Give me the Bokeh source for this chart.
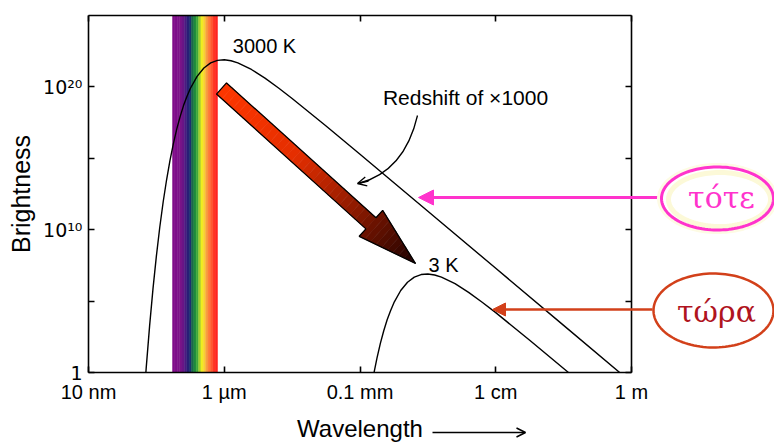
import numpy as np
from bokeh.plotting import figure
from bokeh.models import (LogAxis, FixedTicker, Label, Arrow, NormalHead, OpenHead,
                          PolyAnnotation, CustomJSTickFormatter, Range1d)
from bokeh.embed import file_html
from bokeh.resources import INLINE

# ---------------- data ----------------
# 3000 K blackbody curve: log10(wavelength / m), log10(brightness)
wl_3000_log = [-7.20, -7.15, -7.10, -7.05, -7.00, -6.95, -6.90, -6.85, -6.80, -6.75,
               -6.70, -6.65, -6.60, -6.55, -6.50, -6.40, -6.30, -6.20, -6.10, -6.00,
               -5.90, -5.80, -5.60, -5.40, -5.20, -5.00, -4.50, -4.00, -3.00, -2.00,
               -1.00, 0.00]
br_3000_log = [-3.02, 0.31, 3.25, 5.86, 8.15, 10.17, 11.94, 13.48, 14.84, 16.01,
               17.04, 17.92, 18.69, 19.33, 19.89, 20.74, 21.32, 21.68, 21.86, 21.90,
               21.83, 21.68, 21.22, 20.61, 19.92, 19.19, 17.26, 15.28, 11.29, 7.30,
               3.30, -0.70]
# 3 K blackbody curve
wl_3_log = [-3.85, -3.80, -3.75, -3.70, -3.65, -3.60, -3.55, -3.50, -3.40, -3.30,
            -3.20, -3.10, -3.00, -2.90, -2.80, -2.60, -2.40, -2.20, -2.00, -1.50,
            -1.00, -0.80]
br_3_log = [-1.52, -0.16, 1.01, 2.04, 2.92, 3.69, 4.33, 4.89, 5.74, 6.32,
            6.68, 6.86, 6.90, 6.83, 6.68, 6.22, 5.61, 4.92, 4.19, 2.26,
            0.28, -0.51]

x_tick_values = [1e-8, 1e-6, 1e-4, 1e-2, 1.0]
x_tick_labels = ["10 nm", "1 \u00b5m", "0.1 mm", "1 cm", "1 m"]
y_tick_values = [1.0, 1e5, 1e10, 1e15, 1e20]
y_tick_labels = ["1", "", "10\u00b9\u2070", "", "10\u00b2\u2070"]

x_limits = (1e-8, 1.0)
y_limits = (1.0, 1e25)

# visible band (wavelength in m)
band_left_m = 1.73e-7
band_right_m = 7.96e-7
band_colors = ["#800d8a", "#7f0e8a", "#7d1089", "#7a1488", "#6a1686", "#4a1a80",
               "#2a1e78", "#1e3070", "#1a6a48", "#1f8a3c", "#40a83a", "#a0d030",
               "#f0ee20", "#f8d030", "#f8a040", "#ff7a38", "#ff5a2e", "#ff3a25",
               "#ff2420"]

# ---------------- page geometry (pixels) ----------------
W, H = 774, 444
BX0, BX1 = 88.0, 631.0    # chart box left / right
BY0, BY1 = 372.0, 15.0    # chart box bottom / top


def dx(px):
    lo, hi = np.log10(x_limits[0]), np.log10(x_limits[1])
    return 10 ** (lo + (px - BX0) * (hi - lo) / (BX1 - BX0))


def dy(py):
    lo, hi = np.log10(y_limits[0]), np.log10(y_limits[1])
    return 10 ** (lo + (BY0 - py) * (hi - lo) / (BY0 - BY1))


p = figure(x_axis_type="log", y_axis_type="log",
           x_range=Range1d(dx(0), dx(W)), y_range=Range1d(dy(H), dy(0)),
           width=W, height=H, min_border=0,
           output_backend="svg", toolbar_location=None,
           background_fill_color="white", border_fill_color="white")
p.grid.visible = False
p.outline_line_color = None

FONT = "Liberation Sans"


def fmt(vals, labs):
    return CustomJSTickFormatter(args=dict(vals=vals, labs=labs), code="""
for (let i = 0; i < vals.length; i++) {
  if (Math.abs(Math.log10(tick) - Math.log10(vals[i])) < 1e-6) return labs[i];
}
return "";
""")


def style_axis(ax):
    ax.major_tick_in = 6
    ax.major_tick_out = 0
    ax.minor_tick_in = 0
    ax.minor_tick_out = 0
    ax.axis_line_width = 1.6
    ax.axis_line_color = "black"
    ax.major_tick_line_width = 1.6
    ax.major_tick_line_color = "black"
    ax.major_label_text_color = "black"
    ax.axis_label_text_font = FONT
    ax.axis_label_text_font_style = "normal"
    ax.axis_label_text_color = "black"


xa = p.xaxis[0]
xa.ticker = FixedTicker(ticks=x_tick_values)
xa.formatter = fmt(x_tick_values, x_tick_labels)
xa.fixed_location = y_limits[0]
xa.bounds = x_limits
style_axis(xa)
xa.major_label_text_font = FONT
xa.major_label_text_font_size = "20px"
xa.major_label_standoff = 8
xa.axis_label = "Wavelength"
xa.axis_label_text_font_size = "24px"
xa.axis_label_standoff = 9

ya = p.yaxis[0]
ya.ticker = FixedTicker(ticks=y_tick_values)
ya.formatter = fmt(y_tick_values, y_tick_labels)
ya.fixed_location = x_limits[0]
ya.bounds = y_limits
style_axis(ya)
ya.major_label_text_font = "DejaVu Sans"
ya.major_label_text_font_size = "19px"
ya.major_label_standoff = 6
ya.axis_label = "Brightness"
ya.axis_label_text_font_size = "25px"
ya.axis_label_standoff = 5

ra = LogAxis(ticker=FixedTicker(ticks=y_tick_values), formatter=CustomJSTickFormatter(code="return '';"),
             fixed_location=x_limits[1], bounds=y_limits)
style_axis(ra)
p.add_layout(ra, "right")
ta = LogAxis(ticker=FixedTicker(ticks=x_tick_values), formatter=CustomJSTickFormatter(code="return '';"),
             fixed_location=y_limits[1], bounds=x_limits)
style_axis(ta)
p.add_layout(ta, "above")

# visible band
edges = np.linspace(np.log10(band_left_m), np.log10(band_right_m), len(band_colors) + 1)
p.quad(left=10 ** edges[:-1], right=10 ** edges[1:], bottom=y_limits[0], top=y_limits[1],
       fill_color=band_colors, line_color=band_colors, line_width=0.5)

# blackbody curves
p.line(10 ** np.array(wl_3000_log), 10 ** np.array(br_3000_log), line_color="black", line_width=1.4)
p.line(10 ** np.array(wl_3_log), 10 ** np.array(br_3_log), line_color="black", line_width=1.4)
# white mask below the x axis so the curves stop at the box
p.quad(left=[dx(0)], right=[dx(W)], bottom=[dy(H)], top=[y_limits[0]],
       fill_color="white", line_color=None)


# big gradient redshift arrow (geometry in page pixels)
def lerp_color(t):
    stops = [(0.0, (255, 55, 0)), (0.4, (228, 46, 0)), (0.7, (140, 26, 0)), (1.0, (28, 0, 0))]
    t = min(max(t, 0.0), 1.0)
    for (t0, c0), (t1, c1) in zip(stops[:-1], stops[1:]):
        if t <= t1:
            f = (t - t0) / (t1 - t0)
            return "#%02x%02x%02x" % tuple(int(round(a + (b - a) * f)) for a, b in zip(c0, c1))
    return "#%02x%02x%02x" % stops[-1][1]


T = np.array([221.0, 88.0])
P = np.array([415.0, 263.0])
L = np.linalg.norm(P - T)
u = (P - T) / L
n = np.array([-u[1], u[0]])
hw_s, hw_h, head_len = 7.5, 17.5, 60.0
s_base = L - head_len
xs_list, ys_list, cols = [], [], []
ns = 28
for i in range(ns):
    a, b = s_base * i / ns, s_base * (i + 1) / ns
    pts = [T + a * u + hw_s * n, T + b * u + hw_s * n, T + b * u - hw_s * n, T + a * u - hw_s * n]
    xs_list.append([dx(q[0]) for q in pts])
    ys_list.append([dy(q[1]) for q in pts])
    xc = np.mean([q[0] for q in pts])
    cols.append(lerp_color((xc - 216) / (415 - 216)))
nh = 10
for i in range(nh):
    a, b = s_base + head_len * i / nh, s_base + head_len * (i + 1) / nh
    wa = hw_h * (L - a) / head_len
    wb = hw_h * (L - b) / head_len
    pts = [T + a * u + wa * n, T + b * u + wb * n, T + b * u - wb * n, T + a * u - wa * n]
    xs_list.append([dx(q[0]) for q in pts])
    ys_list.append([dy(q[1]) for q in pts])
    xc = np.mean([q[0] for q in pts])
    cols.append(lerp_color((xc - 216) / (415 - 216)))
p.patches(xs_list, ys_list, fill_color=cols, line_color=cols, line_width=0.6)
B = T + s_base * u
outline = [T + hw_s * n, B + hw_s * n, B + hw_h * n, P, B - hw_h * n, B - hw_s * n, T - hw_s * n]
p.patch([dx(q[0]) for q in outline], [dy(q[1]) for q in outline],
        fill_alpha=0, line_color="black", line_width=1.3)

# curved pointer from "Redshift" text
p.quadratic(x0=[dx(417)], y0=[dy(115)], x1=[dx(358)], y1=[dy(183)],
            cx=[dx(404)], cy=[dy(171)], line_color="black", line_width=1.3)
p.add_layout(Arrow(x_start=dx(368), y_start=dy(180.5), x_end=dx(357), y_end=dy(183),
                   line_color="black", line_width=1.3,
                   end=OpenHead(size=9, line_color="black", line_width=1.3)))


def lab(px, py, text, size, color="black", font=FONT):
    p.add_layout(Label(x=dx(px), y=dy(py), text=text, text_align="center",
                       text_baseline="middle", text_font=font, text_font_size=size,
                       text_color=color))


lab(264, 45, "3000 K", "20px")
lab(443, 264, "3 K", "20px")
lab(465, 97, "Redshift of \u00d71000", "21px")

# pointers from the right-hand bubbles
PINK = "#ff33cc"
RUST = "#d2401a"
p.add_layout(Arrow(x_start=dx(660), y_start=dy(197), x_end=dx(418), y_end=dy(197),
                   line_color=PINK, line_width=3,
                   end=NormalHead(size=15, fill_color=PINK, line_color=PINK)))
p.add_layout(Arrow(x_start=dx(652), y_start=dy(309), x_end=dx(492), y_end=dy(309),
                   line_color=RUST, line_width=2.5,
                   end=NormalHead(size=13, fill_color=RUST, line_color=RUST)))

theta = np.linspace(0, 2 * np.pi, 120)


def ellipse(cx, cy, rx, ry, color, width):
    p.add_layout(PolyAnnotation(xs=[dx(cx + rx * np.cos(t)) for t in theta],
                                ys=[dy(cy + ry * np.sin(t)) for t in theta],
                                fill_color=None, fill_alpha=0,
                                line_color=color, line_alpha=1.0, line_width=width))


ellipse(719, 199, 51, 27, "#fcf9d8", 5)
ellipse(717, 198, 59, 34, "#fdfbe4", 3)
ellipse(717, 198, 56, 31.5, PINK, 3)
ellipse(713, 310, 60, 37, RUST, 2.5)
lab(721, 197, "\u03c4\u03cc\u03c4\u03b5", "30px", PINK, "DejaVu Serif")
lab(716, 311, "\u03c4\u03ce\u03c1\u03b1", "30px", "#b0141e", "DejaVu Serif")

# arrow after the x-axis title
p.add_layout(Arrow(x_start=dx(432), y_start=dy(432), x_end=dx(525), y_end=dy(432),
                   line_color="black", line_width=1.5,
                   end=OpenHead(size=9, line_color="black", line_width=1.5)))

open("out.html", "w").write(file_html(p, INLINE))
